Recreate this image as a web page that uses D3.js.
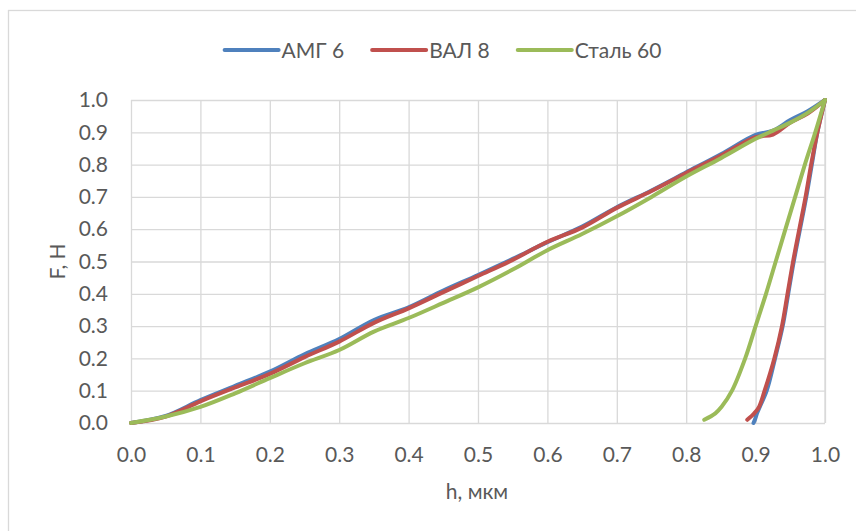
<!DOCTYPE html>
<html>
<head>
<meta charset="utf-8">
<script src="https://cdn.jsdelivr.net/npm/d3@7"></script>
<style>
  body { margin: 0; background: #fff; }
  svg { display: block; }
</style>
</head>
<body>
<div id="chart"></div>
<script>
'use strict'

// series names and colours (Excel 2010 palette)
var seriesNames = ['АМГ 6', 'ВАЛ 8', 'Сталь 60']
var seriesColors = ['#4f81bd', '#c0504d', '#9bbb59']

// loading branch, h in мкм
var loadH = [0, 0.05, 0.1, 0.15, 0.2, 0.25, 0.3, 0.35, 0.4, 0.45, 0.5, 0.55, 0.6, 0.65, 0.7, 0.75, 0.8, 0.85, 0.9, 0.925, 0.95, 0.975, 1.0]
var amgLoadF = [0, 0.022, 0.071, 0.115, 0.159, 0.213, 0.26, 0.319, 0.358, 0.41, 0.458, 0.508, 0.56, 0.608, 0.668, 0.72, 0.776, 0.832, 0.892, 0.905, 0.938, 0.965, 1.0]
var valLoadF = [0, 0.02, 0.067, 0.11, 0.152, 0.204, 0.252, 0.31, 0.355, 0.405, 0.455, 0.505, 0.561, 0.605, 0.666, 0.718, 0.774, 0.828, 0.885, 0.893, 0.93, 0.958, 1.0]
var stalLoadF = [0, 0.02, 0.05, 0.092, 0.139, 0.185, 0.226, 0.283, 0.325, 0.372, 0.42, 0.475, 0.535, 0.585, 0.64, 0.7, 0.763, 0.82, 0.88, 0.905, 0.93, 0.96, 1.0]

// unloading branch, F in Н
var unloadF = [0, 0.01, 0.03, 0.05, 0.1, 0.2, 0.3, 0.4, 0.5, 0.6, 0.7, 0.8, 0.9, 1.0]
var amgUnloadH = [0.897, 0.899, 0.902, 0.906, 0.916, 0.928, 0.939, 0.947, 0.955, 0.964, 0.973, 0.981, 0.989, 1.0]
var valUnloadH = [null, 0.888, 0.898, 0.905, 0.913, 0.927, 0.938, 0.946, 0.954, 0.963, 0.972, 0.98, 0.989, 1.0]
var stalUnloadH = [null, 0.826, 0.842, 0.851, 0.866, 0.885, 0.9, 0.915, 0.929, 0.943, 0.957, 0.971, 0.986, 1.0]

var ticks = [0, 0.1, 0.2, 0.3, 0.4, 0.5, 0.6, 0.7, 0.8, 0.9, 1.0]
var xTitle = 'h, мкм'
var yTitle = 'F, Н'

var loads = [amgLoadF, valLoadF, stalLoadF]
var unloads = [amgUnloadH, valUnloadH, stalUnloadH]

var width = 856
var height = 531
var margin = { top: 100, right: 31, bottom: 108, left: 131 }
var innerW = width - margin.left - margin.right
var innerH = height - margin.top - margin.bottom
var font = 'Lato, "Open Sans", sans-serif'
var fontSize = '21px'
var grey = '#595959'

var svg = d3
  .select('#chart')
  .append('svg')
  .attr('width', width)
  .attr('height', height)

// chart area border
svg
  .append('rect')
  .attr('x', 8.5)
  .attr('y', 10.5)
  .attr('width', 870)
  .attr('height', 540)
  .attr('fill', 'none')
  .attr('stroke', '#d9d9d9')
  .attr('stroke-width', 1.3)

var g = svg
  .append('g')
  .attr('transform', 'translate(' + margin.left + ',' + margin.top + ')')

var x = d3.scaleLinear().domain([0, 1]).range([0, innerW])
var y = d3.scaleLinear().domain([0, 1]).range([innerH, 0])

var xAxis = d3
  .axisBottom(x)
  .tickValues(ticks)
  .tickSize(-innerH)
  .tickPadding(24)
  .tickFormat(d3.format('.1f'))

var yAxis = d3
  .axisLeft(y)
  .tickValues(ticks)
  .tickSize(-innerW)
  .tickPadding(23)
  .tickFormat(d3.format('.1f'))

g.append('g')
  .attr('class', 'x axis')
  .attr('transform', 'translate(0,' + innerH + ')')
  .call(xAxis)

g.append('g')
  .attr('class', 'y axis')
  .call(yAxis)

g.selectAll('.axis .domain').remove()
g.selectAll('.axis line')
  .attr('stroke', '#d9d9d9')
  .attr('stroke-width', 1.3)
g.selectAll('.axis text')
  .attr('font-family', font)
  .attr('font-size', fontSize)
  .attr('fill', grey)

// close the right edge of the grid
g.append('line')
  .attr('x1', x(1))
  .attr('x2', x(1))
  .attr('y1', 0)
  .attr('y2', innerH)
  .attr('stroke', '#d9d9d9')
  .attr('stroke-width', 1.3)

var line = d3
  .line()
  .x(function(d) {
    return x(d[0])
  })
  .y(function(d) {
    return y(d[1])
  })
  .curve(d3.curveCatmullRom.alpha(0.5))

seriesNames.forEach(function(name, i) {
  var up = loadH.map(function(h, j) {
    return [h, loads[i][j]]
  })
  var down = unloadF
    .map(function(f, j) {
      return [unloads[i][j], f]
    })
    .filter(function(d) {
      return d[0] !== null
    })
  ;[up, down].forEach(function(pts) {
    g.append('path')
      .datum(pts)
      .attr('fill', 'none')
      .attr('stroke', seriesColors[i])
      .attr('stroke-width', 4)
      .attr('stroke-linejoin', 'round')
      .attr('stroke-linecap', 'round')
      .attr('d', line)
  })
})

// axis titles
svg
  .append('text')
  .attr('x', 477)
  .attr('y', 499)
  .attr('text-anchor', 'middle')
  .attr('font-family', font)
  .attr('font-size', fontSize)
  .attr('fill', grey)
  .text(xTitle)

svg
  .append('text')
  .attr('transform', 'translate(65,' + (margin.top + innerH / 2) + ') rotate(-90)')
  .attr('text-anchor', 'middle')
  .attr('font-family', font)
  .attr('font-size', fontSize)
  .attr('fill', grey)
  .text(yTitle)

// legend
var legend = svg.append('g')
var lx = 0
seriesNames.forEach(function(name, i) {
  var item = legend.append('g').attr('transform', 'translate(' + lx + ',0)')
  item
    .append('line')
    .attr('x1', 0)
    .attr('x2', 54)
    .attr('y1', 0)
    .attr('y2', 0)
    .attr('stroke', seriesColors[i])
    .attr('stroke-width', 4)
    .attr('stroke-linecap', 'round')
  var t = item
    .append('text')
    .attr('x', 57)
    .attr('y', 7.5)
    .attr('font-family', font)
    .attr('font-size', fontSize)
    .attr('fill', grey)
    .text(name)
  lx += 57 + t.node().getComputedTextLength() + 28
})
var legendW = lx - 28
legend.attr('transform', 'translate(' + (443 - legendW / 2) + ',50)')
</script>
</body>
</html>
